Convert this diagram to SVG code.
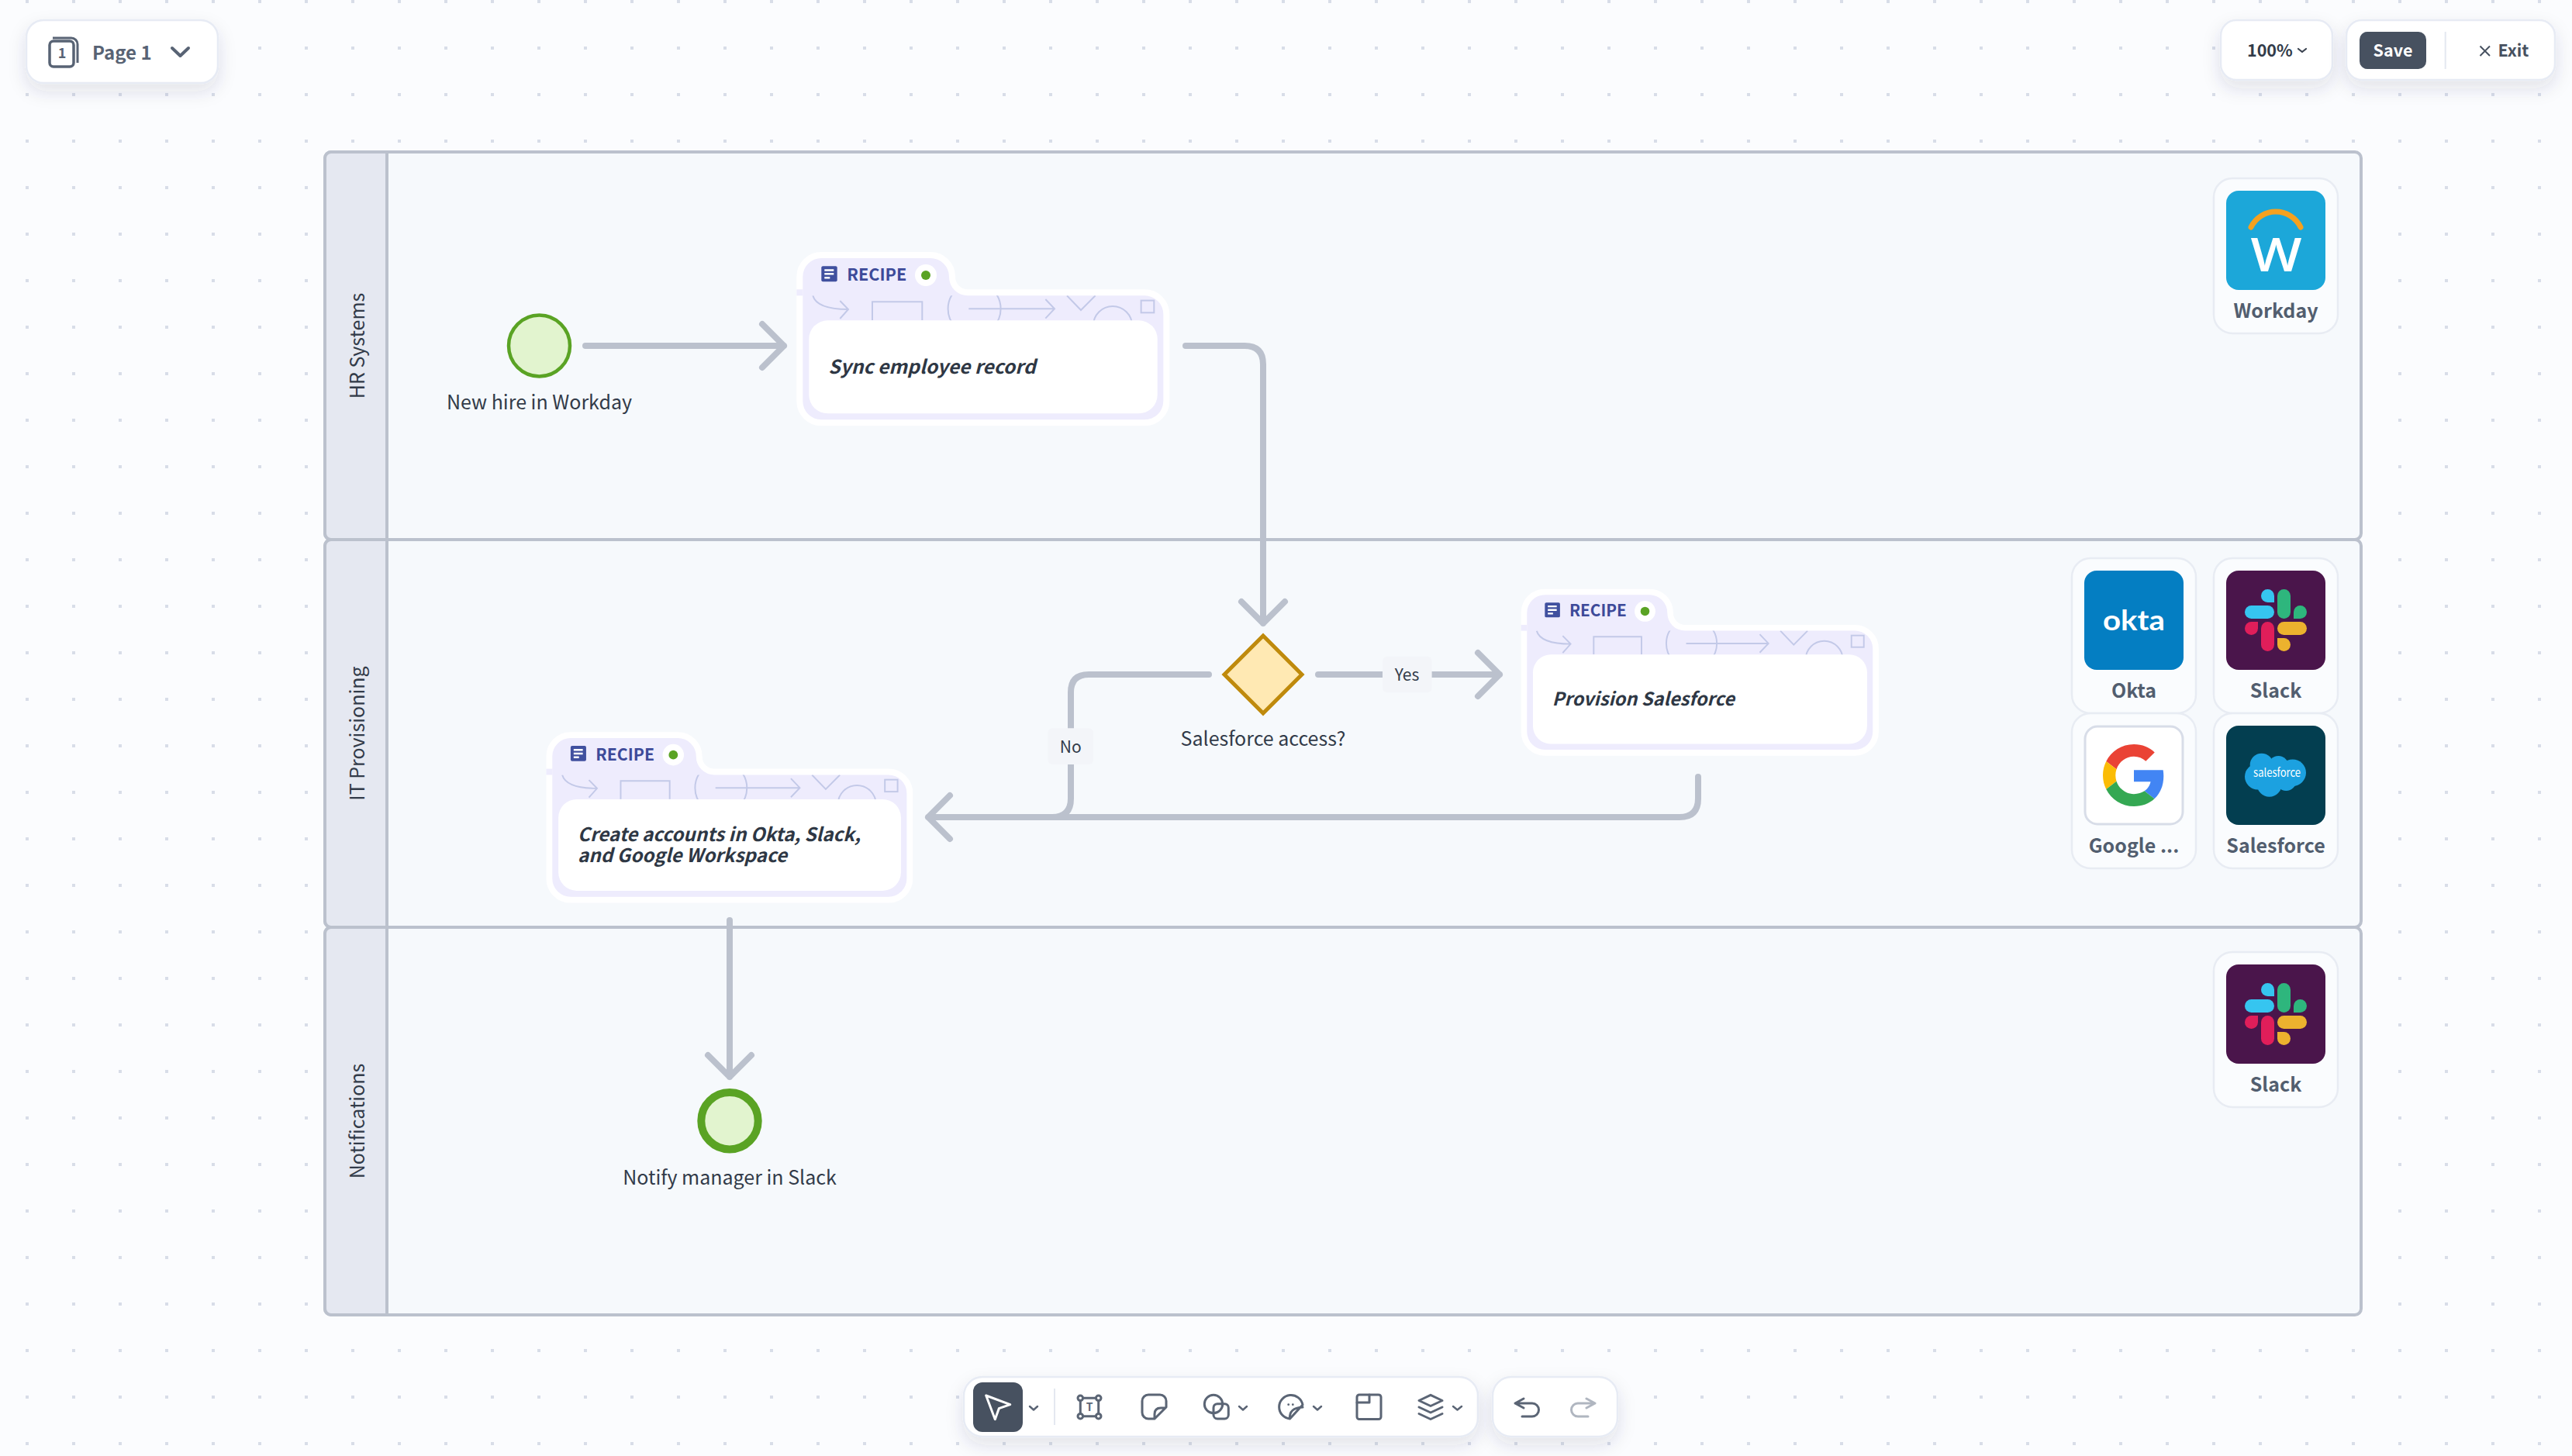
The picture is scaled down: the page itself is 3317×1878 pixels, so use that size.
<svg xmlns="http://www.w3.org/2000/svg" width="3317" height="1878" viewBox="0 0 3317 1878">
<style>
text{font-family:"Noto Sans CJK SC","Noto Sans","Liberation Sans",sans-serif;fill:#323b49}
.lane{fill:#f6f9fc;stroke:#bbc1cd;stroke-width:4}
.head{fill:#e5e8f1;stroke:#bbc1cd;stroke-width:4}
.lanelabel{font-size:25px;text-anchor:middle}
.conn{fill:none;stroke:#bbc1cd;stroke-width:8;stroke-linecap:round;stroke-linejoin:round}
.lab{font-size:25px;text-anchor:middle}
.edgebox{fill:#f3f5f9}
.edgetext{font-size:21px;text-anchor:middle}
.card{fill:#fafcfe;stroke:#e8ecf3;stroke-width:2.5}
.applabel{font-size:25px;font-weight:700;text-anchor:middle;fill:#525e6f}
.ui{fill:#fff;stroke:#e7ebf4;stroke-width:2.5;filter:url(#sh)}
.ic{fill:none;stroke:#5b6575;stroke-width:3;stroke-linecap:round;stroke-linejoin:round}
.recipe{font-size:21.6px;font-weight:700;fill:#3d4a99}
.task{font-size:24.6px;font-weight:600;font-style:italic;fill:#2e3744}
.sk{fill:none;stroke:#c3c9e8;stroke-width:2}
.uitext{font-size:21.5px;font-weight:600;fill:#475160}
</style>
<defs>
<pattern id="dots" width="60" height="60" patternUnits="userSpaceOnUse"><rect x="33" y="0" width="4" height="4" fill="#d8dde8"/></pattern>
<filter id="sh" x="-30%" y="-40%" width="160%" height="200%"><feDropShadow dx="0" dy="10" stdDeviation="11" flood-color="#2b3a5c" flood-opacity="0.12"/></filter>
<clipPath id="patclip"><rect x="0" y="48.3" width="465" height="40"/></clipPath>
<g id="recipebody">
<path d="M24 0H164.7a24 24 0 0 1 24 24V24.3a24 24 0 0 0 24 24H441a24 24 0 0 1 24 24V184.3a24 24 0 0 1 -24 24H24a24 24 0 0 1 -24 -24V24a24 24 0 0 1 24 -24Z" fill="#eeecfd" stroke="#fff" stroke-width="16" paint-order="stroke"/>
<rect x="-8" y="40.3" width="8" height="8" fill="#eeecfd"/>
<g clip-path="url(#patclip)" class="sk">
<path d="M13 48.3Q18 66 58.7 66M48 55 58.7 66 48 78"/>
<path d="M89.7 80V56.3H154V80"/>
<circle cx="221.3" cy="65.3" r="34"/>
<path d="M214 65.3H324.7M313 53 324.7 65.3 313 77.6"/>
<path d="M340.7 48.3 358.7 67 377.3 48.3"/>
<circle cx="399.7" cy="87" r="25"/>
<rect x="436.3" y="54.6" width="16.7" height="15.7"/>
</g>
<rect x="8" y="80.3" width="449.4" height="120" rx="24" fill="#fff"/>
<rect x="24" y="10.3" width="20.4" height="20" rx="2" fill="#40509f"/>
<path d="M28 15.5H40M28 20.3H40M28 25.2H35" stroke="#fff" stroke-width="2.4" fill="none"/>
<text class="recipe" x="57" y="29">RECIPE</text>
<circle cx="158.7" cy="22" r="14" fill="#fff"/>
<circle cx="158.7" cy="22" r="6" fill="#5aa324"/>
</g>
<g id="slacklogo">
<rect width="128" height="128" rx="16" fill="#4a154b"/>
<g transform="translate(24 24)">
<rect x="0" y="21" width="38" height="17" rx="8.5" fill="#36c5f0"/>
<path d="M38 17H29.5a8.5 8.5 0 1 1 8.5 -8.5Z" fill="#36c5f0"/>
<rect x="42" y="0" width="17" height="38" rx="8.5" fill="#2eb67d"/>
<path d="M63 38V29.5a8.5 8.5 0 1 1 8.5 8.5Z" fill="#2eb67d"/>
<rect x="21" y="42" width="17" height="38" rx="8.5" fill="#e01e5a"/>
<path d="M17 42V50.5a8.5 8.5 0 1 1 -8.5 -8.5Z" fill="#e01e5a"/>
<rect x="42" y="42" width="38" height="17" rx="8.5" fill="#ecb22e"/>
<path d="M42 63H50.5a8.5 8.5 0 1 1 -8.5 8.5Z" fill="#ecb22e"/>
</g>
</g>
</defs>
<rect width="3317" height="1878" fill="#fbfcfe"/>
<rect width="3317" height="1878" fill="url(#dots)"/>

<g id="lane-hr"><rect class="lane" x="419" y="196" width="2626" height="500" rx="8"/><path class="head" d="M499 196H427a8 8 0 0 0 -8 8V688a8 8 0 0 0 8 8H499Z"/><text class="lanelabel" transform="translate(470 446) rotate(-90)">HR Systems</text></g>
<g id="lane-it"><rect class="lane" x="419" y="696" width="2626" height="500" rx="8"/><path class="head" d="M499 696H427a8 8 0 0 0 -8 8V1188a8 8 0 0 0 8 8H499Z"/><text class="lanelabel" transform="translate(470 946) rotate(-90)">IT Provisioning</text></g>
<g id="lane-notify"><rect class="lane" x="419" y="1196" width="2626" height="500" rx="8"/><path class="head" d="M499 1196H427a8 8 0 0 0 -8 8V1688a8 8 0 0 0 8 8H499Z"/><text class="lanelabel" transform="translate(470 1446) rotate(-90)">Notifications</text></g>

<g id="connectors">
<path class="conn" d="M755 446H1011M983 418 1011 446 983 474"/>
<path class="conn" d="M1529 446H1605Q1629 446 1629 470V804M1601 776 1629 804 1657 776"/>
<path class="conn" d="M1700 870H1934M1906 842 1934 870 1906 898"/>
<path class="conn" d="M1559 870H1404Q1381 870 1381 893V1030Q1381 1054 1357 1054"/>
<path class="conn" d="M2190 1002V1030Q2190 1054 2166 1054H1197M1225 1026 1197 1054 1225 1082"/>
<path class="conn" d="M941 1187V1389M913 1361 941 1389 969 1361"/>
<g id="edge-yes"><rect class="edgebox" x="1783" y="846.7" width="63.6" height="46.6" rx="6"/><text class="edgetext" x="1814.500" y="878">Yes</text></g>
<g id="edge-no"><rect class="edgebox" x="1351.4" y="939.3" width="58.6" height="46.7" rx="6"/><text class="edgetext" x="1380.7" y="971">No</text></g>
</g>

<g id="start"><circle cx="695.5" cy="446" r="39.5" fill="#e2f4cf" stroke="#5aa324" stroke-width="4.5"/><text class="lab" x="695.5" y="528">New hire in Workday</text></g>
<g id="task-sync" transform="translate(1035.3 333)"><use href="#recipebody"/><text class="task" x="33" y="149">Sync employee record</text></g>
<g id="gateway"><path d="M1629 820 1679 870 1629 920 1579 870Z" fill="#ffe9b3" stroke="#bf8a0c" stroke-width="5"/><text class="lab" x="1629" y="961.5">Salesforce access?</text></g>
<g id="task-provision" transform="translate(1969.3 767.3) scale(.959)"><use href="#recipebody"/><text class="task" x="33.8" y="149">Provision Salesforce</text></g>
<g id="task-create" transform="translate(712.3 952) scale(.983)"><use href="#recipebody"/><text class="task" x="33.3" y="135">Create accounts in Okta, Slack,</text><text class="task" x="33.3" y="163">and Google Workspace</text></g>
<g id="end"><circle cx="941" cy="1445.7" r="36.7" fill="#e2f4cf" stroke="#5aa324" stroke-width="10"/><text class="lab" x="941" y="1528">Notify manager in Slack</text></g>

<g id="app-workday"><rect class="card" x="2855" y="230" width="160" height="200" rx="24"/><rect x="2871" y="246" width="128" height="128" rx="16" fill="#1ca7d9"/><path d="M2903 293A35.600 35.600 0 0 1 2967 293" fill="none" stroke="#f5a11f" stroke-width="7" stroke-linecap="round"/><text x="2935.5" y="350" font-size="60" font-weight="600" text-anchor="middle" textLength="66" lengthAdjust="spacingAndGlyphs" style="fill:#fff;font-family:'Open Sans',sans-serif">W</text><text class="applabel" x="2935" y="410">Workday</text></g>
<g id="app-okta"><rect class="card" x="2672" y="720" width="160" height="200" rx="24"/><rect x="2688" y="736" width="128" height="128" rx="16" fill="#047ec2"/><text x="2752" y="813" font-size="37" font-weight="700" text-anchor="middle" textLength="80" lengthAdjust="spacingAndGlyphs" style="fill:#fff;font-family:Lato,sans-serif">okta</text><text class="applabel" x="2752" y="900">Okta</text></g>
<g id="app-slack"><rect class="card" x="2855" y="720" width="160" height="200" rx="24"/><use href="#slacklogo" x="2871" y="736"/><text class="applabel" x="2935" y="900">Slack</text></g>
<g id="app-google"><rect class="card" x="2672" y="920" width="160" height="200" rx="24"/><rect x="2689" y="937" width="126" height="126" rx="16" fill="#fff" stroke="#d8dde8" stroke-width="3"/><g transform="translate(2712 960) scale(1.6667)"><path fill="#EA4335" d="M24 9.5c3.54 0 6.71 1.22 9.21 3.6l6.85-6.85C35.9 2.38 30.47 0 24 0 14.62 0 6.51 5.38 2.56 13.22l7.98 6.19C12.43 13.72 17.74 9.5 24 9.5z"/><path fill="#4285F4" d="M46.98 24.55c0-1.57-.15-3.09-.38-4.55H24v9.02h12.94c-.58 2.96-2.26 5.48-4.78 7.18l7.73 6c4.51-4.18 7.09-10.36 7.09-17.65z"/><path fill="#FBBC05" d="M10.53 28.59c-.48-1.45-.76-2.99-.76-4.59s.27-3.14.76-4.59l-7.98-6.19C.92 16.46 0 20.12 0 24c0 3.88.92 7.54 2.56 10.78l7.97-6.19z"/><path fill="#34A853" d="M24 48c6.48 0 11.93-2.13 15.89-5.81l-7.73-6c-2.15 1.45-4.92 2.3-8.16 2.3-6.26 0-11.57-4.22-13.47-9.91l-7.98 6.19C6.51 42.62 14.62 48 24 48z"/></g><text class="applabel" x="2752" y="1100">Google ...</text></g>
<g id="app-salesforce"><rect class="card" x="2855" y="920" width="160" height="200" rx="24"/><rect x="2871" y="936" width="128" height="128" rx="16" fill="#033e50"/><g fill="#1ca1e0"><circle cx="2916.7" cy="986.7" r="15"/><circle cx="2938.3" cy="988.3" r="13.3"/><circle cx="2956.7" cy="996.7" r="17.3"/><circle cx="2911.7" cy="1001.7" r="16.7"/><circle cx="2926.7" cy="1011.7" r="16"/><circle cx="2948.3" cy="1006.7" r="13.3"/><rect x="2915" y="985" width="38" height="25"/></g><text x="2936.6" y="1001.7" font-size="15" text-anchor="middle" textLength="61" lengthAdjust="spacingAndGlyphs" style="fill:#fff">salesforce</text><text class="applabel" x="2935" y="1100">Salesforce</text></g>
<g id="app-slack-2"><rect class="card" x="2855" y="1228" width="160" height="200" rx="24"/><use href="#slacklogo" x="2871" y="1244"/><text class="applabel" x="2935" y="1408">Slack</text></g>

<g id="page-menu"><rect class="ui" x="34" y="26" width="247" height="81" rx="22"/><rect x="64" y="53" width="31" height="33" rx="5" fill="none" stroke="#586374" stroke-width="3.5"/><path d="M68 49H92a8 8 0 0 1 8 8V81" fill="none" stroke="#586374" stroke-width="3"/><text x="80" y="74.5" font-size="18" font-weight="700" text-anchor="middle" style="fill:#586374">1</text><text x="119" y="77" font-size="24" font-weight="600" style="fill:#586374">Page 1</text><path d="M222 62 232.5 72 243 62" fill="none" stroke="#586374" stroke-width="4" stroke-linecap="round" stroke-linejoin="round"/></g>
<g id="zoom-menu"><rect class="ui" x="2864" y="26" width="144" height="77" rx="20"/><text x="2898" y="73" font-size="21.5" font-weight="600">100%</text><path class="ic" d="M2964 63 2969 67 2974 63" style="stroke-width:2.2;stroke:#3a4350"/></g>
<g id="save-exit"><rect class="ui" x="3026" y="26" width="269" height="77" rx="20"/><rect x="3043" y="41" width="86" height="48" rx="10" fill="#475160"/><text x="3086" y="73" font-size="21.5" font-weight="600" text-anchor="middle" style="fill:#fff">Save</text><path d="M3153.7 41V89" stroke="#e4e8f0" stroke-width="2"/><path d="M3198.5 59.5 3211 72M3211 59.5 3198.5 72" stroke="#475160" stroke-width="2" fill="none"/><text class="uitext" x="3221.5" y="73">Exit</text></g>

<g id="toolbar"><rect class="ui" x="1243" y="1776" width="663" height="77" rx="24"/>
<rect x="1255" y="1783" width="64" height="64" rx="12" fill="#475160"/>
<path d="M1271.7 1800 1302.7 1811.7 1288.3 1816.7 1283.3 1830.7Z" fill="none" stroke="#fff" stroke-width="3" stroke-linejoin="round"/>
<path class="ic" d="M1328 1814 1333 1818.5 1338 1814M1598 1814 1603 1818.5 1608 1814M1694 1814 1699 1818.5 1704 1814M1874 1814 1879.500 1818.5 1885 1814" style="stroke-width:2.4"/>
<path d="M1360 1791V1838" stroke="#e4e8f0" stroke-width="2"/>
<g class="ic"><path d="M1396.500 1803.300H1413.500M1396.500 1826.700H1413.500M1393.300 1806.500V1823.500M1416.700 1806.500V1823.500"/><circle cx="1393.300" cy="1803.300" r="3.300"/><circle cx="1416.700" cy="1803.300" r="3.300"/><circle cx="1393.300" cy="1826.700" r="3.300"/><circle cx="1416.700" cy="1826.700" r="3.300"/></g>
<text x="1405" y="1819.500" font-size="14" font-weight="700" text-anchor="middle" style="fill:#5b6575">T</text>
<path class="ic" d="M1489 1830H1481a8 8 0 0 1 -8 -8V1807a8 8 0 0 1 8 -8H1496a8 8 0 0 1 8 8V1815ZM1489 1830V1824Q1489 1816 1497 1816H1503"/>
<g class="ic"><circle cx="1565" cy="1811" r="11.700"/><rect x="1565" y="1810.700" width="19.300" height="19.300" rx="5"/></g>
<g class="ic"><path d="M1680 1812A15.300 15.300 0 1 0 1663.500 1830L1680 1812ZM1663.500 1830Q1662 1816 1680 1815"/></g>
<circle cx="1661.700" cy="1811.700" r="1.400" fill="#5b6575"/><circle cx="1667.300" cy="1811.700" r="1.400" fill="#5b6575"/>
<g class="ic"><rect x="1750" y="1799" width="31" height="31.500" rx="3"/><path d="M1750 1809H1766V1799"/></g>
<path class="ic" d="M1845 1799.300 1860 1806.500 1845 1813.500 1830 1806.500ZM1830 1815 1845 1822 1860 1815M1830 1823.500 1845 1830.500 1860 1823.500"/>
</g>
<g id="undo-redo"><rect class="ui" x="1925" y="1776" width="161" height="77" rx="24"/>
<path class="ic" d="M1965 1804 1954 1810 1965 1816M1954 1810H1976a8.500 8.500 0 0 1 0 17H1963"/>
<path class="ic" d="M2046 1804 2057 1810 2046 1816M2057 1810H2035a8.500 8.500 0 0 0 0 17H2048" style="stroke:#b0b6c0"/>
</g>
</svg>
